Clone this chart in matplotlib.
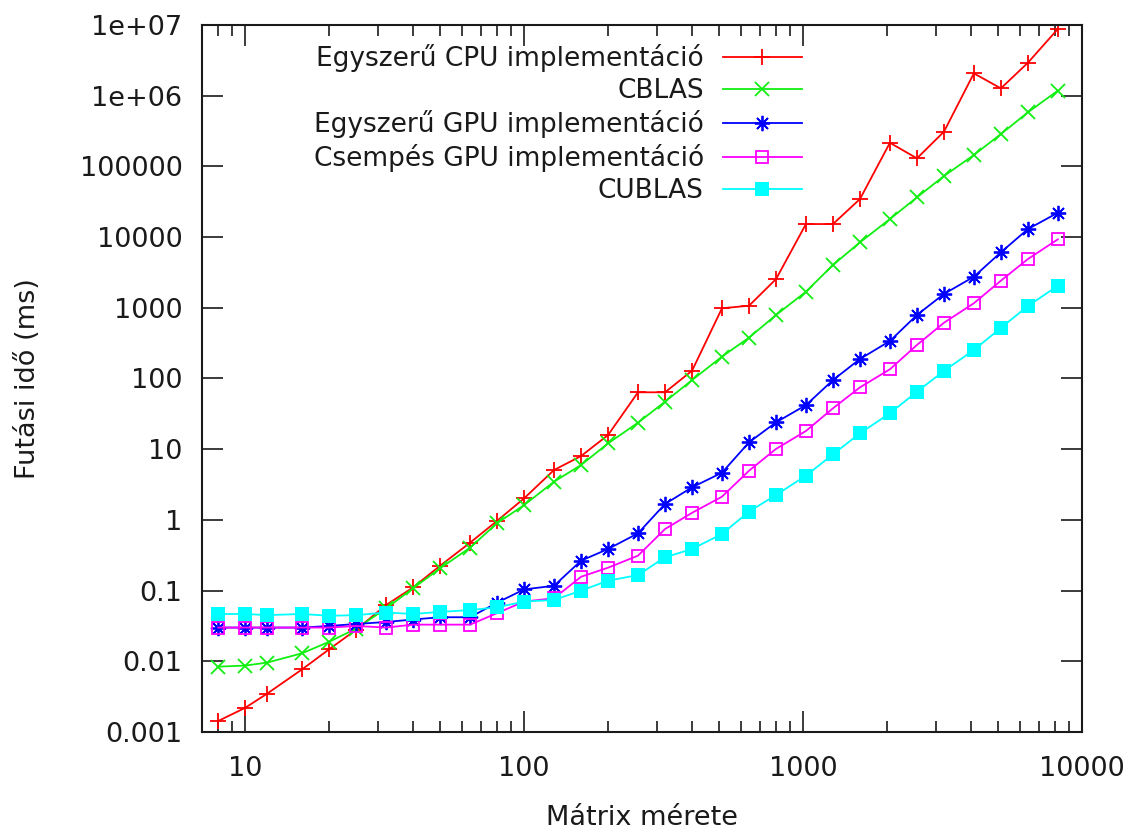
import matplotlib
matplotlib.use("Agg")
import matplotlib.pyplot as plt
from matplotlib.ticker import FixedLocator, FixedFormatter, NullFormatter

plt.rcParams['font.family'] = ['DejaVu Sans']

# ---- data ----
sizes = [8, 10, 12, 16, 20, 25, 32, 40, 50, 64, 80, 100, 128, 160, 200, 256,
         320, 400, 512, 640, 800, 1024, 1280, 1600, 2048, 2560, 3200, 4096,
         5120, 6400, 8192]

cpu_naive = [0.00143, 0.0022, 0.0035, 0.0077, 0.0148, 0.028, 0.0625, 0.111,
             0.225, 0.476, 0.97, 2.02, 5.08, 8.0, 15.9, 63.8, 63.8, 129, 985,
             1070, 2550, 15300, 15300, 34600, 216000, 130000, 310000, 2.07e6,
             1.27e6, 2.93e6, 8.78e6]

cblas = [0.0084, 0.0087, 0.0096, 0.013, 0.0189, 0.029, 0.056, 0.108, 0.207,
         0.405, 0.90, 1.62, 3.47, 5.98, 12.1, 23.7, 47, 95, 204, 378, 791,
         1690, 4030, 8440, 18000, 36500, 73100, 145000, 287000, 582000, 1.18e6]

gpu_naive = [0.030, 0.030, 0.030, 0.030, 0.0316, 0.0337, 0.036, 0.039, 0.042,
             0.042, 0.0675, 0.104, 0.117, 0.265, 0.388, 0.646, 1.68, 2.89,
             4.65, 12.5, 24, 42, 95, 189, 339, 791, 1570, 2750, 6100, 13000,
             22100]

gpu_tiled = [0.030, 0.030, 0.030, 0.030, 0.030, 0.0316, 0.030, 0.033, 0.033,
             0.033, 0.048, 0.070, 0.078, 0.157, 0.211, 0.312, 0.743, 1.26,
             2.13, 4.96, 10.1, 18.1, 37.9, 75, 135, 298, 615, 1160, 2420,
             4900, 9300]

cublas = [0.0467, 0.0467, 0.045, 0.0467, 0.044, 0.045, 0.049, 0.0467, 0.050,
          0.053, 0.058, 0.070, 0.0736, 0.100, 0.138, 0.166, 0.296, 0.388,
          0.632, 1.31, 2.25, 4.22, 8.47, 16.8, 32.2, 65, 128, 253, 520, 1060,
          2050]

labels = ["Egyszerű CPU implementáció", "CBLAS", "Egyszerű GPU implementáció",
          "Csempés GPU implementáció", "CUBLAS"]

y_ticks = [1e-3, 1e-2, 1e-1, 1, 10, 100, 1000, 1e4, 1e5, 1e6, 1e7]
y_tick_labels = ["0.001", "0.01", "0.1", "1", "10", "100", "1000", "10000",
                 "100000", "1e+06", "1e+07"]
x_ticks = [10, 100, 1000, 10000]
x_tick_labels = ["10", "100", "1000", "10000"]

xlabel = "Mátrix mérete"
ylabel = "Futási idő (ms)"

# ---- figure ----
W, H = 1137, 830
fig = plt.figure(figsize=(W / 100, H / 100), dpi=100)
ax = fig.add_axes([202 / W, 1 - 732 / H, 880 / W, 707 / H])

styles = [
    dict(color="#ff0000", marker="+", ms=12, mew=1.3),
    dict(color="#11ee11", marker="x", ms=10, mew=1.3),
    dict(color="#0000ff", marker=(8, 2, 0), ms=11, mew=1.3),
    dict(color="#ff00ff", marker="s", ms=9, mew=1.3, mfc="none"),
    dict(color="#00ffff", marker="s", ms=10, mew=0),
]
series = [cpu_naive, cblas, gpu_naive, gpu_tiled, cublas]

handles = []
for vals, lab, st in zip(series, labels, styles):
    h, = ax.plot(sizes, vals, lw=1.3, label=lab, **st)
    handles.append(h)

ax.set_xscale("log")
ax.set_yscale("log")
ax.set_xlim(7, 10000)
ax.set_ylim(1e-3, 1e7)

ax.yaxis.set_major_locator(FixedLocator(y_ticks))
ax.yaxis.set_major_formatter(FixedFormatter(y_tick_labels))
ax.yaxis.set_minor_locator(FixedLocator([]))
ax.xaxis.set_major_locator(FixedLocator(x_ticks))
ax.xaxis.set_major_formatter(FixedFormatter(x_tick_labels))
minor_x = [m * 10 ** e for e in range(0, 4) for m in range(2, 10)]
ax.xaxis.set_minor_locator(FixedLocator(minor_x))
ax.xaxis.set_minor_formatter(NullFormatter())

fs = 19.5
ax.tick_params(which="both", direction="in", top=True, right=True,
               labelsize=fs, colors="#1a1a1a", width=1.2)
ax.tick_params(which="major", length=15)
ax.tick_params(which="minor", length=8)
ax.tick_params(axis="y", pad=14)
ax.tick_params(axis="x", pad=17)
for sp in ax.spines.values():
    sp.set_linewidth(1.5)
    sp.set_color("#1a1a1a")

ax.set_xlabel(xlabel, fontsize=fs, color="#1a1a1a", labelpad=17)
ax.set_ylabel(ylabel, fontsize=fs, color="#1a1a1a", labelpad=28)

leg = ax.legend(handles=handles, loc="upper right",
                bbox_to_anchor=((802 - 202) / 880, 1 - 19 / 707),
                frameon=False, markerfirst=False, fontsize=19,
                handlelength=3.0, handletextpad=0.72, labelspacing=0.23,
                borderpad=0, borderaxespad=0)
# right-align the legend rows (text right-aligned next to the sample)
try:
    vp = leg._legend_box._children[-1]._children[0]
    vp.align = "right"
except Exception:
    pass
for t in leg.get_texts():
    t.set_color("#1a1a1a")

fig.savefig("out.png", dpi=100)
